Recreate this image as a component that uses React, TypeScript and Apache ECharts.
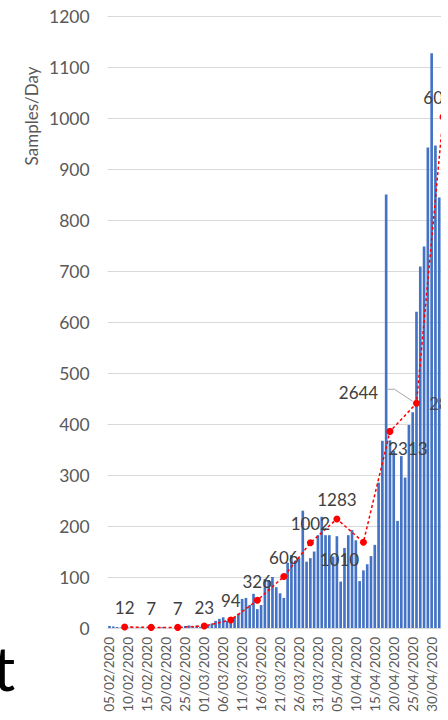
import React, { useEffect, useRef } from "react";
import * as echarts from "echarts";

// ---------- data ----------
const firstDay = "2020-02-05";
const dayCount = 101; // axis keeps going past the cropped right edge

function buildDates(start: string, n: number): string[] {
  const out: string[] = [];
  const t0 = Date.parse(start + "T00:00:00Z");
  for (let i = 0; i < n; i++) {
    const d = new Date(t0 + i * 86400000);
    const dd = String(d.getUTCDate()).padStart(2, "0");
    const mm = String(d.getUTCMonth() + 1).padStart(2, "0");
    out.push(`${dd}/${mm}/${d.getUTCFullYear()}`);
  }
  return out;
}
const dates = buildDates(firstDay, dayCount);

// daily samples (bars), from 05/02/2020
const dailySamples = [
  4, 3, 2, 1, 0, 1, 2, 0, 1, 0,
  1, 2, 0, 1, 2, 0, 1, 0, 1, 1,
  4, 5, 3, 5, 2, 4, 6, 9, 14, 18,
  21, 14, 18, 22, 28, 57, 59, 45, 67, 37,
  45, 96, 94, 100, 80, 68, 59, 128, 143, 132,
  137, 230, 130, 137, 150, 182, 218, 182, 182, 140,
  180, 91, 157, 182, 192, 172, 92, 113, 125, 141,
  163, 285, 367, 850, 368, 347, 210, 337, 295, 398,
  423, 620, 709, 748, 942, 1127, 946, 844,
];

// weekly points (red dashed line): average per day, labelled with weekly total
const weekDates = [
  "09/02/2020", "16/02/2020", "23/02/2020", "01/03/2020", "08/03/2020",
  "15/03/2020", "22/03/2020", "29/03/2020", "05/04/2020", "12/04/2020",
  "19/04/2020", "26/04/2020", "03/05/2020",
];
const weeklyTotals = [12, 7, 7, 23, 94, 326, 606, 1002, 1283, 1010, 2313, 2644, 6012];
const weeklyAvg = [2, 1.2, 1.2, 3.8, 15.7, 54.3, 101, 167, 213.8, 168.3, 385.5, 440.7, 1002];

// second (overlapping) label next to the 26/04 point
const extraLabelDate = "26/04/2020";
const extraLabelValue = 440.7;
const extraLabelText = "2871";

const yMin = 0;
const yMax = 1200;
const yStep = 100;

// ---------- style ----------
const FONT = "Lato, 'Open Sans', sans-serif";
const BAR = "#4472C4";
const RED = "#FF0000";
const AXIS_TXT = "#595959";
const LBL_TXT = "#404040";
const GRID = "#D9D9D9";

const CHART_W = 520;
const CHART_H = 720;
const PLOT_LEFT = 107.6;
const BAND = 3.79;
const PLOT_TOP = 16;
const PLOT_BOTTOM = 92;
const SYM = 7;

// label centre offset from the marker centre, for the moved labels
const movedLabels: Record<string, [number, number]> = {
  "12/04/2020": [-24, 17],
  "19/04/2020": [18, 17],
  "26/04/2020": [-58, -11],
};

export default function App() {
  const ref = useRef<HTMLDivElement>(null);

  useEffect(() => {
    if (!ref.current) return;
    const chart = echarts.init(ref.current, undefined, { renderer: "svg" });

    const totalsByDate: Record<string, number> = {};
    weekDates.forEach((d, i) => (totalsByDate[d] = weeklyTotals[i]));

    const lineData = dates.map((d) => {
      const k = weekDates.indexOf(d);
      if (k < 0) return null;
      const item: any = { value: weeklyAvg[k] };
      const mv = movedLabels[d];
      if (mv) {
        item.label = {
          position: [SYM / 2 + mv[0], SYM / 2 + mv[1]],
          align: "center",
          verticalAlign: "middle",
        };
      }
      return item;
    });

    const plotW = dates.length * BAND;

    chart.setOption({
      animation: false,
      backgroundColor: "#ffffff",
      grid: {
        left: PLOT_LEFT,
        right: CHART_W - PLOT_LEFT - plotW,
        top: PLOT_TOP,
        bottom: PLOT_BOTTOM,
        containLabel: false,
        outerBoundsMode: "none",
      },
      xAxis: {
        type: "category",
        data: dates,
        boundaryGap: true,
        axisLine: { show: true, lineStyle: { color: GRID, width: 1 } },
        axisTick: { show: false },
        axisLabel: {
          interval: 4,
          rotate: 90,
          margin: 9,
          fontSize: 13.5,
          fontFamily: FONT,
          color: AXIS_TXT,
        },
        splitLine: { show: false },
      },
      yAxis: {
        type: "value",
        min: yMin,
        max: yMax,
        interval: yStep,
        axisLine: { show: false },
        axisTick: { show: false },
        axisLabel: {
          margin: 18,
          fontSize: 17.5,
          fontFamily: FONT,
          color: AXIS_TXT,
          formatter: (v: number) => String(v),
        },
        splitLine: { show: true, lineStyle: { color: GRID, width: 1 } },
      },
      series: [
        {
          type: "bar",
          name: "Samples/Day",
          data: dailySamples,
          barCategoryGap: "30%",
          itemStyle: { color: BAR },
          z: 2,
        },
        {
          type: "line",
          name: "Weekly",
          data: lineData,
          connectNulls: true,
          showSymbol: true,
          showAllSymbol: true,
          symbol: "circle",
          symbolSize: SYM,
          itemStyle: { color: RED },
          lineStyle: { color: RED, width: 1.5, type: [3, 2.5] },
          labelLayout: { hideOverlap: false },
          label: {
            show: true,
            position: "top",
            distance: 7,
            fontSize: 17,
            fontFamily: FONT,
            color: LBL_TXT,
            formatter: (p: any) => String(totalsByDate[p.name] ?? ""),
          },
          z: 5,
        },
        {
          type: "scatter",
          name: "overlap",
          data: [[extraLabelDate, extraLabelValue]],
          symbolSize: 1,
          itemStyle: { color: "rgba(0,0,0,0)" },
          labelLayout: { hideOverlap: false },
          label: {
            show: true,
            position: "right",
            distance: 12,
            fontSize: 17,
            fontFamily: FONT,
            color: LBL_TXT,
            formatter: () => extraLabelText,
          },
          z: 6,
        },
      ],
    });

    const p = chart.convertToPixel({ xAxisIndex: 0, yAxisIndex: 0 }, [
      weekDates[11],
      weeklyAvg[11],
    ]) as number[];

    chart.setOption({
      graphic: [
        {
          id: "ytitle",
          type: "text",
          x: 31,
          y: 116,
          rotation: Math.PI / 2,
          style: {
            text: "Samples/Day",
            fontSize: 17,
            fontFamily: FONT,
            fill: AXIS_TXT,
            align: "center",
            verticalAlign: "middle",
          },
        },
        {
          id: "tglyph",
          type: "text",
          x: -7,
          y: 698,
          style: {
            text: "t",
            fontSize: 62,
            fontFamily: FONT,
            fill: "#000000",
            align: "left",
            verticalAlign: "bottom",
          },
        },
        {
          id: "leader",
          type: "polyline",
          z: 10,
          shape: {
            points: [
              [p[0] - 30, p[1] - 14],
              [p[0] - 22, p[1] - 14],
              [p[0] - 4, p[1] - 2],
            ],
          },
          style: { stroke: "#A6A6A6", lineWidth: 1, fill: "none" },
        },
      ],
    });

    return () => chart.dispose();
  }, []);

  return (
    <div
      style={{
        position: "fixed",
        left: 0,
        top: 0,
        width: 441,
        height: 720,
        overflow: "hidden",
        background: "#ffffff",
      }}
    >
      <div ref={ref} style={{ width: CHART_W, height: CHART_H }} />
    </div>
  );
}
